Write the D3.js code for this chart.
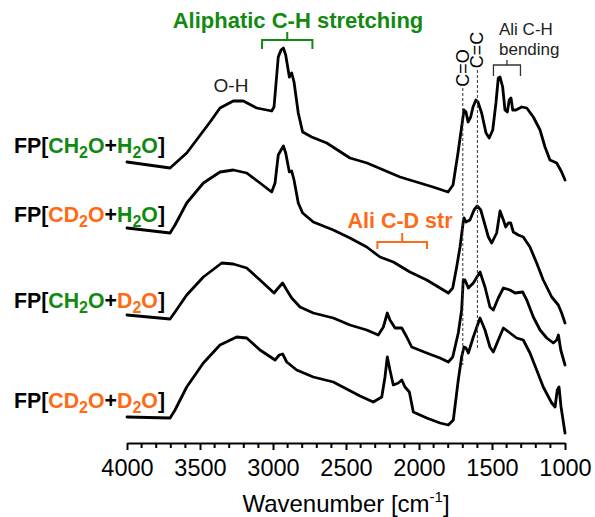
<!DOCTYPE html>
<html>
<head>
<meta charset="utf-8">
<script src="https://d3js.org/d3.v7.min.js"></script>
<style>
  body { margin: 0; background: #fff; }
  svg text { font-family: Arial, "Liberation Sans", sans-serif; }
  .spec { fill: none; stroke: #000; stroke-width: 2.8; stroke-linejoin: round; stroke-linecap: round; }
  .guide { stroke: #333; stroke-width: 1; stroke-dasharray: 3 2; }
</style>
</head>
<body>
<div id="chart"></div>
<script>
var width = 595, height = 517;

// wavenumber (cm-1) and stacked intensity (a.u.)
var wn1 = [4000,3705,3591,3431,3363,3272,3203,3112,3009,2993,2964,2945,2929,2913,2888,2872,2856,2827,2797,2735,2632,2473,2356,2130,1904,1801,1767,1733,1708,1692,1678,1664,1646,1630,1610,1596,1571,1541,1519,1495,1473,1457,1445,1427,1411,1395,1382,1370,1358,1336,1297,1262,1217,1171,1137,1103,1057,1023,1000];
var ab1 = [2.81,2.75,2.90,3.21,3.35,3.42,3.42,3.35,3.32,3.36,3.86,3.93,3.95,3.88,3.66,3.70,3.61,3.30,3.11,3.06,3.00,2.85,2.80,2.66,2.56,2.51,2.58,2.90,3.16,3.33,3.31,3.21,3.26,3.36,3.43,3.41,3.30,3.10,3.05,3.13,3.40,3.65,3.66,3.56,3.33,3.31,3.43,3.45,3.33,3.33,3.36,3.35,3.26,3.13,2.96,2.83,2.80,2.71,2.63];

var wn2 = [4000,3705,3671,3591,3477,3363,3272,3180,3089,3009,2986,2964,2945,2929,2913,2888,2872,2856,2827,2797,2724,2587,2473,2358,2267,2176,2062,1947,1856,1799,1769,1742,1719,1697,1692,1678,1651,1623,1601,1577,1548,1525,1502,1468,1445,1422,1406,1388,1372,1354,1320,1286,1240,1194,1149,1091,1046,1023,1000];
var ab2 = [2.15,2.10,2.18,2.40,2.60,2.71,2.73,2.70,2.60,2.51,2.60,2.88,2.93,2.97,2.90,2.71,2.72,2.63,2.40,2.30,2.21,2.13,2.05,1.96,1.86,1.81,1.71,1.63,1.55,1.50,1.55,1.76,1.96,2.21,2.25,2.21,2.23,2.33,2.37,2.33,2.18,2.06,2.00,2.10,2.32,2.23,2.16,2.20,2.20,2.11,2.08,2.06,1.96,1.80,1.63,1.46,1.38,1.30,1.20];

var wn3 = [4000,3705,3671,3591,3477,3351,3272,3180,3089,2993,2964,2934,2906,2872,2815,2724,2587,2473,2358,2279,2244,2217,2199,2164,2118,2084,2050,1947,1856,1799,1769,1731,1708,1697,1685,1662,1628,1582,1548,1514,1491,1457,1422,1377,1342,1290,1262,1217,1171,1125,1080,1057,1045,1029,1000];
var ab3 = [1.28,1.24,1.31,1.48,1.66,1.80,1.79,1.75,1.63,1.50,1.55,1.60,1.53,1.45,1.36,1.30,1.25,1.18,1.13,1.08,1.16,1.30,1.23,1.15,1.15,1.06,0.96,0.90,0.85,0.81,0.86,1.10,1.33,1.63,1.63,1.55,1.60,1.71,1.56,1.36,1.33,1.45,1.55,1.53,1.50,1.51,1.43,1.26,1.13,1.05,1.00,1.03,1.08,0.93,0.78];

var wn4 = [4000,3705,3671,3591,3477,3363,3249,3180,3089,2986,2957,2934,2906,2838,2724,2587,2404,2313,2255,2233,2217,2199,2176,2142,2118,2096,2066,2039,1947,1856,1799,1765,1731,1708,1692,1678,1662,1628,1582,1548,1514,1491,1457,1422,1377,1331,1286,1240,1194,1149,1091,1068,1053,1041,1027,1000];
var ab4 = [0.26,0.25,0.33,0.56,0.80,0.98,1.06,1.05,0.93,0.83,0.88,0.89,0.81,0.73,0.66,0.61,0.47,0.41,0.46,0.66,0.86,0.73,0.58,0.60,0.63,0.56,0.51,0.31,0.25,0.20,0.18,0.23,0.63,0.86,0.96,0.95,0.90,1.06,1.25,1.13,0.96,0.91,1.03,1.15,1.10,1.05,1.03,0.90,0.73,0.56,0.40,0.36,0.53,0.56,0.36,0.10];

var xTicks = [4000,3500,3000,2500,2000,1500,1000];
var guideWn = [1700, 1600];

var svg = d3.select("#chart").append("svg")
    .attr("width", width)
    .attr("height", height);

var x = d3.scaleLinear().domain([4000, 1000]).range([127, 565]);
var y = d3.scaleLinear().domain([0, 4.43]).range([443, 0]);

var line = d3.line()
    .x(function(d) { return x(d[0]); })
    .y(function(d) { return y(d[1]); });

[[wn1, ab1], [wn2, ab2], [wn3, ab3], [wn4, ab4]].forEach(function(s) {
  svg.append("path")
     .attr("class", "spec")
     .attr("d", line(d3.zip(s[0], s[1])));
});

// x axis, ticks pointing down
var axis = svg.append("g")
    .attr("transform", "translate(0,443)")
    .call(d3.axisBottom(x).tickValues(xTicks).tickSize(7).tickSizeOuter(0).tickPadding(9).tickFormat(d3.format("d")));
axis.select(".domain").attr("stroke-width", 2);
axis.selectAll(".tick line").attr("stroke-width", 2);
axis.selectAll("text").attr("font-size", 23.5).attr("fill", "#000");
axis.selectAll(".minor").data(d3.range(3900, 1000, -100).filter(function(v) { return v % 500 != 0; }))
    .enter().append("line")
    .attr("x1", x).attr("x2", x)
    .attr("y1", 0).attr("y2", 5)
    .attr("stroke", "#000").attr("stroke-width", 2);

var title = svg.append("text")
    .attr("x", 346).attr("y", 512)
    .attr("text-anchor", "middle")
    .attr("font-size", 24);
title.append("tspan").text("Wavenumber [cm");
title.append("tspan").attr("font-size", 15).attr("dy", -10).text("-1");
title.append("tspan").attr("dy", 10).text("]");

// dashed guides for C=O and C=C
svg.append("line").attr("class", "guide")
   .attr("x1", x(guideWn[0])).attr("x2", x(guideWn[0])).attr("y1", 88).attr("y2", 365);
svg.append("line").attr("class", "guide")
   .attr("x1", x(guideWn[1])).attr("x2", x(guideWn[1])).attr("y1", 70).attr("y2", 350);

svg.append("text").attr("font-size", 18)
   .attr("text-anchor", "middle")
   .attr("transform", "translate(" + (x(guideWn[0]) + 6) + ",68) rotate(-90)")
   .text("C=O");
svg.append("text").attr("font-size", 18)
   .attr("text-anchor", "middle")
   .attr("transform", "translate(" + (x(guideWn[1]) + 6) + ",50) rotate(-90)")
   .text("C=C");

// peak labels
svg.append("text").attr("x", 231).attr("y", 92).attr("font-size", 19)
   .attr("text-anchor", "middle").attr("fill", "#222").text("O-H");
svg.append("text").attr("x", 499).attr("y", 35).attr("font-size", 17).attr("fill", "#222").text("Ali C-H");
svg.append("text").attr("x", 499).attr("y", 55).attr("font-size", 17).attr("fill", "#222").text("bending");

var green = "#128a12", orange = "#ff6a16";

svg.append("text").attr("x", 298).attr("y", 28).attr("font-size", 22)
   .attr("font-weight", "bold").attr("text-anchor", "middle").attr("fill", green)
   .text("Aliphatic C-H stretching");
svg.append("text").attr("x", 400).attr("y", 228).attr("font-size", 21.5)
   .attr("font-weight", "bold").attr("text-anchor", "middle").attr("fill", orange)
   .text("Ali C-D str");

function bracket(w0, w1, yTop, legs, spike, color, sw) {
  var a = x(w0), b = x(w1), m = (a + b) / 2;
  svg.append("path")
     .attr("d", "M" + a + "," + (yTop + legs) + "V" + yTop + "H" + b + "V" + (yTop + legs) +
                "M" + m + "," + yTop + "V" + (yTop - spike))
     .attr("fill", "none").attr("stroke", color).attr("stroke-width", sw);
}
bracket(3075, 2730, 40, 9, 8, green, 2);
bracket(2285, 1945, 242, 7, 9, orange, 2);
bracket(1490, 1305, 65, 11, 5, "#333", 1.3);

// sample labels
var labels = [
  { y: 153, parts: [["FP[", "#000"], ["CH", green], ["2", green, 1], ["O", green], ["+", "#000"], ["H", green], ["2", green, 1], ["O", green], ["]", "#000"]] },
  { y: 222, parts: [["FP[", "#000"], ["CD", orange], ["2", orange, 1], ["O", orange], ["+", "#000"], ["H", green], ["2", green, 1], ["O", green], ["]", "#000"]] },
  { y: 308, parts: [["FP[", "#000"], ["CH", green], ["2", green, 1], ["O", green], ["+", "#000"], ["D", orange], ["2", orange, 1], ["O", orange], ["]", "#000"]] },
  { y: 408, parts: [["FP[", "#000"], ["CD", orange], ["2", orange, 1], ["O", orange], ["+", "#000"], ["D", orange], ["2", orange, 1], ["O", orange], ["]", "#000"]] }
];
labels.forEach(function(l) {
  var t = svg.append("text").attr("x", 14).attr("y", l.y)
     .attr("font-size", 21.3).attr("font-weight", "bold");
  var low = false;
  l.parts.forEach(function(p) {
    var ts = t.append("tspan").attr("fill", p[1]).text(p[0]);
    if (p[2]) { ts.attr("font-size", 16).attr("dy", 5); low = true; }
    else if (low) { ts.attr("dy", -5); low = false; }
  });
});
</script>
</body>
</html>
